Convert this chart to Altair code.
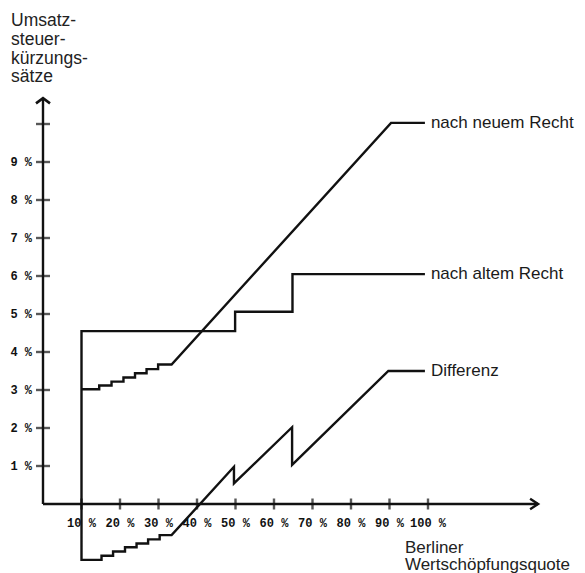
import altair as alt
import pandas as pd

# ---- data (x: Berliner Wertschöpfungsquote in %, y: Kürzungssatz in %) ----
neu_x = [10, 14.6, 14.6, 17.8, 17.8, 20.9, 20.9, 23.9, 23.9, 26.9, 26.9, 29.9, 29.9, 33.4, 90.4, 99.2]
neu_y = [3.02, 3.02, 3.12, 3.12, 3.22, 3.22, 3.33, 3.33, 3.44, 3.44, 3.55, 3.55, 3.67, 3.67, 10.03, 10.03]

alt_x = [10, 10, 49.9, 49.9, 64.8, 64.8, 99.2]
alt_y = [0, 4.55, 4.55, 5.06, 5.06, 6.05, 6.05]

diff_x = [10, 10, 15.2, 15.2, 18.2, 18.2, 21.3, 21.3, 24.3, 24.3, 27.3, 27.3, 30.3, 30.3, 33.4,
          49.6, 49.6, 64.7, 64.7, 89.7, 99.2]
diff_y = [0, -1.47, -1.47, -1.36, -1.36, -1.25, -1.25, -1.14, -1.14, -1.04, -1.04, -0.93, -0.93, -0.82, -0.82,
          0.98, 0.54, 2.02, 1.03, 3.5, 3.5]

series_names = ["nach neuem Recht", "nach altem Recht", "Differenz"]

x_ticks = [10, 20, 30, 40, 50, 60, 70, 80, 90, 100]
x_tick_labels = ["10 %", "20 %", "30 %", "40 %", "50 %", "60 %", "70 %", "80 %", "90 %", "100 %"]
y_ticks = [1, 2, 3, 4, 5, 6, 7, 8, 9, 10]
y_tick_labels = ["1 %", "2 %", "3 %", "4 %", "5 %", "6 %", "7 %", "8 %", "9 %", ""]

x_axis_end = 128.6
y_axis_end = 10.68

y_title = "Umsatz-\nsteuer-\nkürzungs-\nsätze"
x_title = "Berliner\nWertschöpfungsquote"

# ---- geometry ----
W, H = 569, 565
PX_X, OX = 3.85, 35      # px per unit, local x of 0
PX_Y, OY = 38.0, 496     # px per unit, local y of 0
xdom = [-OX / PX_X, (W - OX) / PX_X]
ydom = [(OY - H) / PX_Y, OY / PX_Y]
xs = alt.Scale(domain=xdom, nice=False, zero=False)
ys = alt.Scale(domain=ydom, nice=False, zero=False)

def X(f="x"):
    return alt.X(f"{f}:Q", scale=xs, axis=None)

def Y(f="y"):
    return alt.Y(f"{f}:Q", scale=ys, axis=None)

rows = []
for name, xx, yy in zip(series_names, [neu_x, alt_x, diff_x], [neu_y, alt_y, diff_y]):
    for i, (a, b) in enumerate(zip(xx, yy)):
        rows.append({"series": name, "i": i, "x": a, "y": b})
lines_df = pd.DataFrame(rows)

ink = "#111111"

lines = alt.Chart(lines_df).mark_line(color=ink, strokeWidth=2.4, strokeJoin="miter").encode(
    x=X(), y=Y(), detail="series:N", order="i:Q"
)

end_df = pd.DataFrame({
    "series": series_names,
    "x": [neu_x[-1], alt_x[-1], diff_x[-1]],
    "y": [neu_y[-1], alt_y[-1], diff_y[-1]],
})
series_labels = alt.Chart(end_df).mark_text(
    align="left", baseline="middle", dx=6, font="Liberation Sans", fontSize=17, color="#1a1a1a"
).encode(x=X(), y=Y(), text="series:N")

# axes
axis_df = pd.DataFrame({"x": [0, 0], "y": [0, 0], "x2": [x_axis_end, 0], "y2": [0, y_axis_end]})
axis_rules = alt.Chart(axis_df).mark_rule(color=ink, strokeWidth=2.4).encode(
    x=X(), y=Y(), x2="x2:Q", y2="y2:Q"
)

xt_df = pd.DataFrame({"x": x_ticks, "y": [0] * len(x_ticks), "label": x_tick_labels})
yt_df = pd.DataFrame({"x": [0] * len(y_ticks), "y": y_ticks, "label": y_tick_labels})

x_tick_marks = alt.Chart(xt_df).mark_tick(orient="vertical", size=11, thickness=2.4, color=ink).encode(x=X(), y=Y())
y_tick_marks = alt.Chart(yt_df).mark_tick(orient="horizontal", size=14, thickness=2.4, color=ink).encode(x=X(), y=Y())

x_tick_text = alt.Chart(xt_df).mark_text(
    align="center", baseline="middle", dy=19, font="Liberation Mono", fontWeight="bold", fontSize=12, color=ink
).encode(x=X(), y=Y(), text="label:N")
y_tick_text = alt.Chart(yt_df).mark_text(
    align="right", baseline="middle", dx=-11, font="Liberation Mono", fontWeight="bold", fontSize=12, color=ink
).encode(x=X(), y=Y(), text="label:N")

# arrow heads
arrow_up = alt.Chart(pd.DataFrame({"x": [0], "y": [y_axis_end]})).mark_point(
    shape="M -1 0.75 L 0 0 L 1 0.75", size=196, filled=False, strokeWidth=2.6, color=ink, opacity=1
).encode(x=X(), y=Y())
arrow_right = alt.Chart(pd.DataFrame({"x": [x_axis_end], "y": [0]})).mark_point(
    shape="M -1 -0.65 L 0 0 L -1 0.65", size=256, filled=False, strokeWidth=2.4, color=ink, opacity=1
).encode(x=X(), y=Y())

# axis titles
yt = alt.Chart(pd.DataFrame({"x": [-8.3], "y": [12.58], "t": [y_title]})).mark_text(
    align="left", baseline="alphabetic", lineBreak="\n", lineHeight=18.8,
    font="Liberation Sans", fontSize=17.5, color="#222222"
).encode(x=X(), y=Y(), text="t:N")
xtit = alt.Chart(pd.DataFrame({"x": [94.0], "y": [-1.28], "t": [x_title]})).mark_text(
    align="left", baseline="alphabetic", lineBreak="\n", lineHeight=17.5,
    font="Liberation Sans", fontSize=17, color="#222222"
).encode(x=X(), y=Y(), text="t:N")

chart = alt.layer(
    axis_rules, x_tick_marks, y_tick_marks, arrow_up, arrow_right,
    lines, series_labels, x_tick_text, y_tick_text, yt, xtit
).properties(
    width=W, height=H, padding=0, autosize=alt.AutoSizeParams(type="none"), background="white"
).configure_view(stroke=None)

chart.save("out.html", embed_options={"renderer": "svg", "actions": False})
